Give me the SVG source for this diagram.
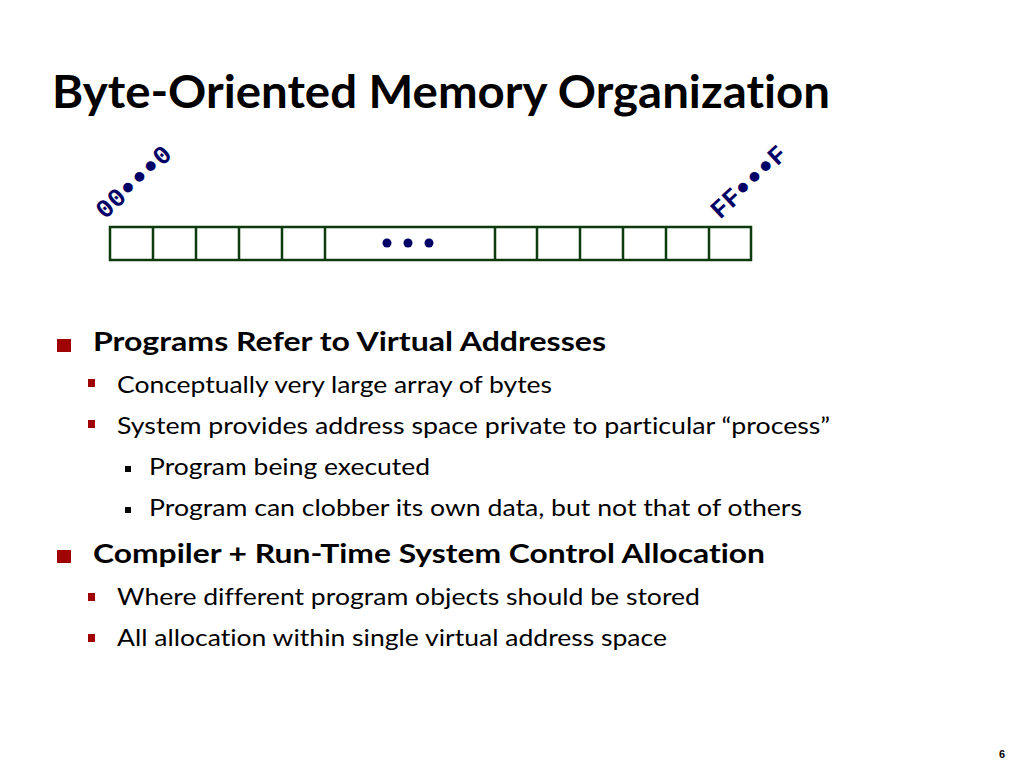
<svg xmlns="http://www.w3.org/2000/svg" width="1024" height="768" viewBox="0 0 1024 768">
<style>
.t{font-family:Lato,"Open Sans","Liberation Sans",sans-serif;fill:#000;font-variant-ligatures:none;font-feature-settings:"liga" 0,"clig" 0}
.b{font-weight:bold}
.l1{font-size:26px;font-weight:bold}
.l2{font-size:23px}
.lab{font-family:"Liberation Mono","Courier New",monospace;font-weight:bold;font-size:26px;fill:#000066}
.dot{font-family:"Liberation Sans",Arial,sans-serif;font-size:34px}
.cell{fill:none;stroke:#0d3b0d;stroke-width:2.5}
.r{fill:#a00000}
.k{fill:#000}
</style>
<rect width="1024" height="768" fill="#fff"/>
<text class="t b" x="52" y="108" font-size="46" textLength="778" lengthAdjust="spacingAndGlyphs">Byte-Oriented Memory Organization</text>

<g id="memory">
<rect class="cell" x="110" y="227" width="641" height="33"/>
<path class="cell" d="M153 227V260M196 227V260M239 227V260M282 227V260M325 227V260M495 227V260M537 227V260M580 227V260M623 227V260M666 227V260M709 227V260"/>
<circle cx="387" cy="243" r="4.5" fill="#000066"/>
<circle cx="408" cy="243" r="4.5" fill="#000066"/>
<circle cx="429" cy="243" r="4.5" fill="#000066"/>
</g>
<g id="label-start"><text class="lab" transform="translate(105,220) rotate(-43)">00<tspan class="dot" dx="1.85" dy="3">•</tspan><tspan class="dot" dx="3.7">•</tspan><tspan class="dot" dx="3.7">•</tspan><tspan dx="1.85" dy="-3">0</tspan></text></g>
<g id="label-end"><text class="lab" transform="translate(720,220) rotate(-43)">FF<tspan class="dot" dx="1.85" dy="3">•</tspan><tspan class="dot" dx="3.7">•</tspan><tspan class="dot" dx="3.7">•</tspan><tspan dx="1.85" dy="-3">F</tspan></text></g>

<g id="bullets">
<rect class="r" x="57" y="339" width="14" height="13"/>
<text class="t l1" x="93" y="351" textLength="513" lengthAdjust="spacingAndGlyphs">Programs Refer to Virtual Addresses</text>
<rect class="r" x="88" y="379" width="7" height="8"/>
<text class="t l2" x="117" y="393" textLength="435" lengthAdjust="spacingAndGlyphs">Conceptually very large array of bytes</text>
<rect class="r" x="88" y="420" width="7" height="8"/>
<text class="t l2" x="117" y="434" textLength="713" lengthAdjust="spacingAndGlyphs">System provides address space private to particular “process”</text>
<rect class="k" x="125" y="466" width="6" height="6"/>
<text class="t l2" x="149" y="475" textLength="281" lengthAdjust="spacingAndGlyphs">Program being executed</text>
<rect class="k" x="125" y="507" width="6" height="6"/>
<text class="t l2" x="149" y="516" textLength="653" lengthAdjust="spacingAndGlyphs">Program can clobber its own data, but not that of others</text>
<rect class="r" x="57" y="550" width="14" height="13"/>
<text class="t l1" x="93" y="563" textLength="672" lengthAdjust="spacingAndGlyphs">Compiler + Run-Time System Control Allocation</text>
<rect class="r" x="88" y="593" width="7" height="8"/>
<text class="t l2" x="117" y="605" textLength="583" lengthAdjust="spacingAndGlyphs">Where different program objects should be stored</text>
<rect class="r" x="88" y="634" width="7" height="8"/>
<text class="t l2" x="117" y="646" textLength="550" lengthAdjust="spacingAndGlyphs">All allocation within single virtual address space</text>
</g>
<text x="999" y="758" font-family="'Liberation Sans Narrow','Liberation Sans',sans-serif" font-weight="bold" font-size="11" fill="#000">6</text>
</svg>
